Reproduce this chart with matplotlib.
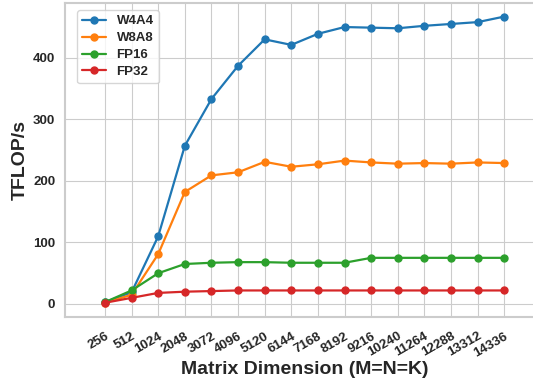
import numpy as np
import matplotlib.pyplot as plt
import seaborn as sns

sns.set_style("whitegrid")
plt.rcParams['font.family'] = ['Liberation Sans', 'DejaVu Sans']

# GEMM throughput (TFLOP/s) for square matrices
dims = [256, 512, 1024, 2048, 3072, 4096, 5120, 6144, 7168, 8192,
        9216, 10240, 11264, 12288, 13312, 14336]
w4a4 = [3, 19, 110, 257, 333, 387, 430, 421, 439, 450, 449, 448, 452, 455, 458, 467]
w8a8 = [2, 15, 81, 182, 209, 214, 231, 223, 227, 233, 230, 228, 229, 228, 230, 229]
fp16 = [3, 22, 50, 65, 67, 68, 68, 67, 67, 67, 75, 75, 75, 75, 75, 75]
fp32 = [2, 10, 18, 20, 21, 22, 22, 22, 22, 22, 22, 22, 22, 22, 22, 22]

fig = plt.figure(figsize=(5.33, 3.8), dpi=100)
ax = fig.add_axes([0.122, 0.166, 0.899, 0.826])

x = np.arange(len(dims))
for vals, lab, col in [(w4a4, 'W4A4', '#1f77b4'), (w8a8, 'W8A8', '#ff7f0e'),
                       (fp16, 'FP16', '#2ca02c'), (fp32, 'FP32', '#d62728')]:
    ax.plot(x, vals, marker='o', markersize=5, linewidth=1.6, color=col, label=lab)

ax.set_xlim(-1.5, 16.5)
ax.set_ylim(-21, 489)
ax.set_xticks(x)
ax.set_xticklabels([str(d) for d in dims], rotation=30, ha='right',
                   rotation_mode='anchor', fontsize=9.5, fontweight='bold')
ax.tick_params(axis='x', pad=6)
ax.set_yticks([0, 100, 200, 300, 400])
for t in ax.get_yticklabels():
    t.set_fontweight('bold')
    t.set_fontsize(9.5)
ax.set_xlabel('Matrix Dimension (M=N=K)', fontsize=14, fontweight='bold', labelpad=1)
ax.set_ylabel('TFLOP/s', fontsize=14, fontweight='bold')
ax.yaxis.set_label_coords(-0.075, 0.5)
for s in ax.spines.values():
    s.set_color('0.8')
    s.set_linewidth(1.5)
ax.spines['right'].set_visible(False)
ax.legend(loc='upper left', bbox_to_anchor=(0.025, 0.978), borderaxespad=0,
          labelspacing=0.35, handlelength=1.8,
          prop={'weight': 'bold', 'size': 9.5})

fig.savefig('out.png', dpi=100)
